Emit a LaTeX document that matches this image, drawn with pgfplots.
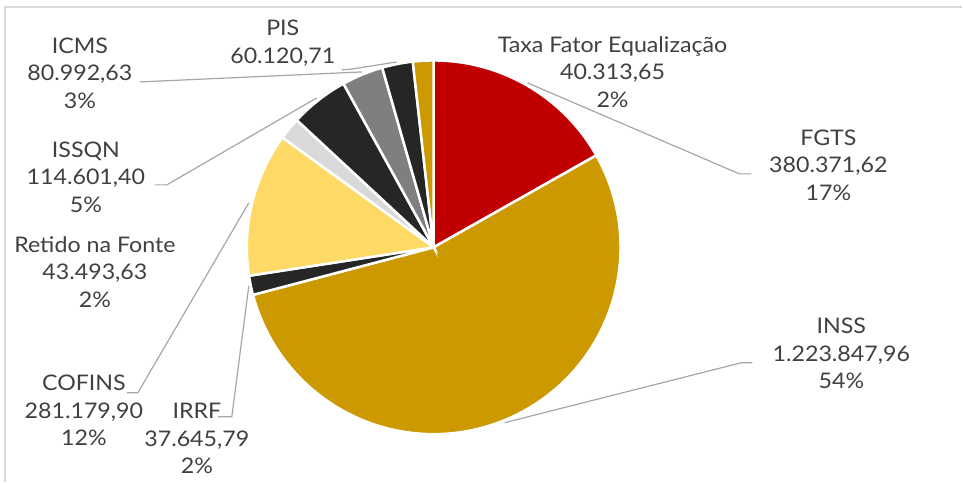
\documentclass[border=0pt]{standalone}
\usepackage{pgfplots}
\usepackage{pgfplotstable}
\pgfplotsset{compat=1.18}
\usepackage{fontspec}
\setmainfont[FakeStretch=1.08]{Lato}

\definecolor{cFGTS}{HTML}{C00000}
\definecolor{cGold}{HTML}{CC9900}
\definecolor{cDark}{HTML}{262626}
\definecolor{cLight}{HTML}{FFD966}
\definecolor{cLGray}{HTML}{D9D9D9}
\definecolor{cGray}{HTML}{7F7F7F}
\definecolor{txt}{HTML}{404040}
\definecolor{lead}{HTML}{A6A6A6}
\definecolor{frame}{HTML}{D9D9D9}

\pgfplotstableread[col sep=comma]{
name,value,color
FGTS,380371.62,cFGTS
INSS,1223847.96,cGold
IRRF,37645.79,cDark
COFINS,281179.90,cLight
Retido,43493.63,cLGray
ISSQN,114601.40,cDark
ICMS,80992.63,cGray
PIS,60120.71,cDark
Taxa,40313.65,cGold
}\taxdata

\begin{document}
\begin{tikzpicture}[lbl/.style={align=center, text=txt, inner sep=0pt, font=\fontsize{21.5bp}{27.5bp}\selectfont}]
\def\total{0}
\pgfplotstableforeachcolumnelement{value}\of\taxdata\as\cellv{\xdef\total{\fpeval{\total+\cellv}}}
\begin{axis}[
  scale only axis, width=963bp, height=482bp,
  xmin=0, xmax=963, ymin=0, ymax=482,
  hide axis, clip=false,
]
\path (axis cs:0,0) (axis cs:963,482);
\draw[frame, line width=1.5bp] (axis cs:5,0) -- (axis cs:5,475) -- (axis cs:963,475);
\xdef\start{90}
\pgfplotsforeachungrouped \i in {0,...,8}{%
  \pgfplotstablegetelem{\i}{value}\of\taxdata \let\sliceval\pgfplotsretval
  \pgfplotstablegetelem{\i}{color}\of\taxdata \let\slicecol\pgfplotsretval
  \edef\endang{\fpeval{\start-360*\sliceval/\total}}%
  \edef\temp{\noexpand\fill[fill=\slicecol, draw=white, line width=2.5bp] (axis cs:434,234.5) -- ++(\start:187bp) arc[start angle=\start, end angle=\endang, radius=187bp] -- cycle;}%
  \temp
  \xdef\start{\endang}%
}
% leader lines
\addplot[lead, line width=1.2bp, no marks] coordinates {(752,308) (740,308) (528,399)};
\addplot[lead, line width=1.2bp, no marks] coordinates {(753,119) (742,119) (505,59)};
\addplot[lead, line width=1.2bp, no marks] coordinates {(218,65) (232,65) (249,196)};
\addplot[lead, line width=1.2bp, no marks] coordinates {(127,89) (138,89) (249,279)};
\addplot[lead, line width=1.2bp, no marks] coordinates {(155,297) (167,297) (317,384)};
\addplot[lead, line width=1.2bp, no marks] coordinates {(140,400) (362,410)};
\addplot[lead, line width=1.2bp, no marks] coordinates {(342,412) (353,413) (397,420)};
% labels
\node[lbl] at (axis cs:283,439) {PIS\\60.120,71};
\node[lbl] at (axis cs:80,409) {ICMS\\80.992,63\\3\%};
\node[lbl] at (axis cs:86,305) {ISSQN\\114.601,40\\5\%};
\node[lbl] at (axis cs:95,210) {Retido na Fonte\\43.493,63\\2\%};
\node[lbl] at (axis cs:84,71) {COFINS\\281.179,90\\12\%};
\node[lbl] at (axis cs:197,43) {IRRF\\37.645,79\\2\%};
\node[lbl] at (axis cs:842,128) {INSS\\1.223.847,96\\54\%};
\node[lbl] at (axis cs:829,317) {FGTS\\380.371,62\\17\%};
\node[lbl] at (axis cs:613,410) {Taxa Fator Equalização\\40.313,65\\2\%};
\end{axis}
\end{tikzpicture}
\end{document}
